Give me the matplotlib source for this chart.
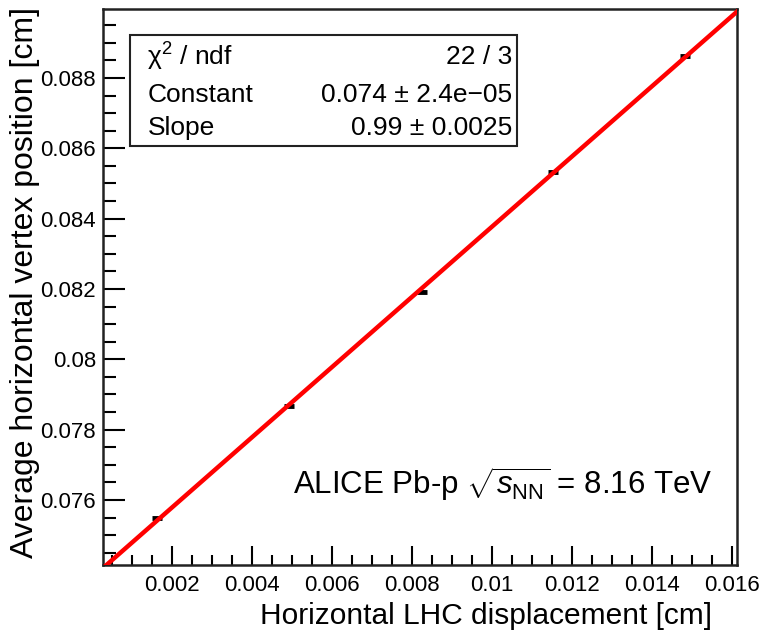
import numpy as np
import matplotlib
matplotlib.use("Agg")
import matplotlib.pyplot as plt
from matplotlib.ticker import MultipleLocator
from matplotlib.patches import Rectangle

plt.rcParams['font.family'] = ['Liberation Sans', 'DejaVu Sans']
plt.rcParams['mathtext.fontset'] = 'custom'
plt.rcParams['mathtext.rm'] = 'Liberation Sans'
plt.rcParams['mathtext.it'] = 'Liberation Sans:italic'

# data
lhc_disp = [0.001625, 0.004925, 0.00825, 0.011525, 0.014825]
vertex_pos = [0.07549, 0.07867, 0.0819, 0.08533, 0.08863]
stat_names = ["\u03c7$^{2}$ / ndf", "Constant", "Slope"]
stat_values = ["22 / 3", "0.074 \u00b1 2.4e\u221205", "0.99 \u00b1 0.0025"]
xtick_vals = [0.002, 0.004, 0.006, 0.008, 0.01, 0.012, 0.014, 0.016]
xtick_labels = ["0.002", "0.004", "0.006", "0.008", "0.01", "0.012", "0.014", "0.016"]
ytick_vals = [0.076, 0.078, 0.08, 0.082, 0.084, 0.086, 0.088]
ytick_labels = ["0.076", "0.078", "0.08", "0.082", "0.084", "0.086", "0.088"]

# linear fit
slope, const = np.polyfit(lhc_disp, vertex_pos, 1)

fig = plt.figure(figsize=(7.63, 6.36), dpi=100)
ax = fig.add_axes([103/763, 1 - 565/636, 634/763, 556/636])

xmin, xmax = 0.000275, 0.016125
ymin, ymax = 0.07415, 0.08996

xx = np.array([xmin, xmax])
ax.plot(xx, const + slope*xx, color='#ff0000', lw=3.2, zorder=3)
ax.plot(lhc_disp, vertex_pos, ls='none', marker='_', ms=7, mew=3.5, color='black', zorder=2)

ax.xaxis.set_minor_locator(MultipleLocator(0.0005))
ax.yaxis.set_minor_locator(MultipleLocator(0.0005))
ax.set_xticks(xtick_vals)
ax.set_xticklabels(xtick_labels)
ax.set_yticks(ytick_vals)
ax.set_yticklabels(ytick_labels)
ax.set_xlim(xmin, xmax)
ax.set_ylim(ymin, ymax)

ax.tick_params(which='both', direction='in', top=False, right=False, width=1.5, labelsize=16)
ax.tick_params(axis='x', which='major', length=14, pad=7)
ax.tick_params(axis='x', which='minor', length=7)
ax.tick_params(axis='y', which='major', length=16, pad=5)
ax.tick_params(axis='y', which='minor', length=9)
for s in ax.spines.values():
    s.set_linewidth(1.8)
    s.set_color('#222222')

ax.set_xlabel("Horizontal LHC displacement [cm]", fontsize=21.5, ha='right')
ax.xaxis.set_label_coords(0.96, -0.066)
ax.set_ylabel("Average horizontal vertex position [cm]", fontsize=23, loc='top')
ax.yaxis.set_label_coords(-0.100, 1.003)

# stats box
box = Rectangle((0.043, 0.754), 0.61, 0.2, transform=ax.transAxes,
                fill=True, facecolor='white', edgecolor='#222222', lw=1.5, zorder=4)
ax.add_patch(box)
rows_y = [0.913, 0.845, 0.786]
for name, val, yy in zip(stat_names, stat_values, rows_y):
    ax.text(0.07, yy, name, transform=ax.transAxes, fontsize=19, va='center', ha='left', zorder=5)
    ax.text(0.645, yy, val, transform=ax.transAxes, fontsize=19, va='center', ha='right', zorder=5)

ax.text(0.30, 0.145, r"ALICE Pb-p $\sqrt{\mathit{s}_{\mathrm{NN}}}$ = 8.16 TeV",
        transform=ax.transAxes, fontsize=22.5, va='center', ha='left')

fig.savefig("out.png", dpi=100)
